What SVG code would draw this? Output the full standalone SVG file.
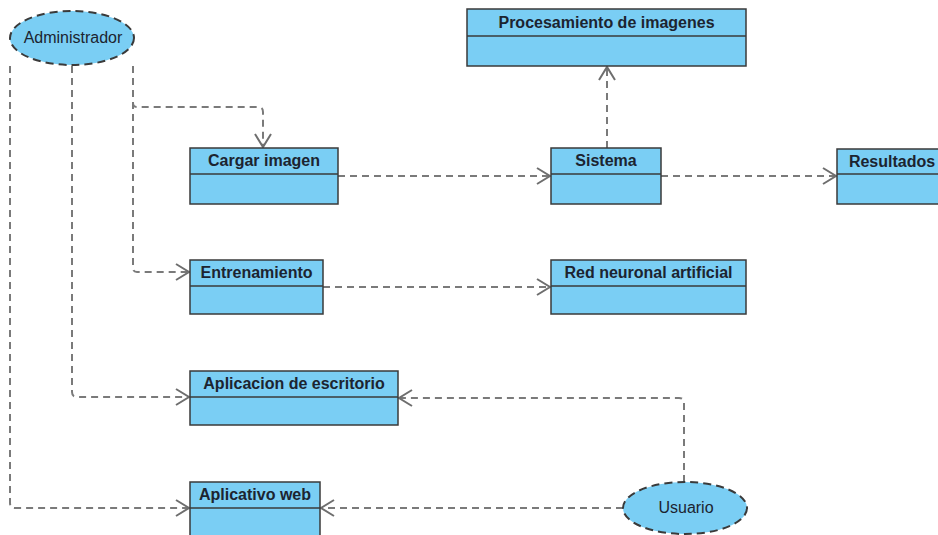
<svg xmlns="http://www.w3.org/2000/svg" width="938" height="535" viewBox="0 0 938 535">
  <style>
    .box { fill: #7acef4; stroke: #3a3a3a; stroke-width: 1.5; }
    .div { stroke: #3a3a3a; stroke-width: 1.5; }
    .actor { fill: #7acef4; stroke: #3a3a3a; stroke-width: 2; stroke-dasharray: 8 5; }
    .title { font-family: "Liberation Sans", Arial, sans-serif; font-weight: bold; font-size: 16px; fill: #1c2430; text-anchor: middle; }
    .aname { font-family: "Liberation Sans", Arial, sans-serif; font-size: 16px; fill: #1c2430; text-anchor: middle; }
    .dep { fill: none; stroke: #7a7a7a; stroke-width: 2; stroke-dasharray: 7 5; marker-end: url(#open); }
  </style>
  <defs>
    <marker id="open" markerUnits="userSpaceOnUse" markerWidth="16" markerHeight="20" refX="14" refY="10" orient="auto">
      <path d="M1,2 L14,10 L1,18" fill="none" stroke="#6e6e6e" stroke-width="2" stroke-dasharray="none"/>
    </marker>
  </defs>

  <rect width="938" height="535" fill="#ffffff"/>

  <!-- dependency connectors -->
  <g id="connectors">
    <path class="dep" d="M133,66 V103 Q133,107 137,107 H258 Q263,107 263,112 V147"/>
    <path class="dep" d="M133,66 V268 Q133,272 137,272 H189"/>
    <path class="dep" d="M72,66 V392 Q72,397 77,397 H189"/>
    <path class="dep" d="M10,66 V503 Q10,508 15,508 H189"/>
    <path class="dep" d="M338,176 H550"/>
    <path class="dep" d="M607,148 V67"/>
    <path class="dep" d="M661,176 H836"/>
    <path class="dep" d="M323,287 H550"/>
    <path class="dep" d="M684,482 V403 Q684,398 679,398 H399"/>
    <path class="dep" d="M623,508 H321"/>
  </g>

  <!-- actors -->
  <g id="administrador">
    <ellipse class="actor" cx="72" cy="38" rx="62" ry="27"/>
    <text class="aname" x="73" y="43">Administrador</text>
  </g>
  <g id="usuario">
    <ellipse class="actor" cx="685" cy="508" rx="62" ry="26"/>
    <text class="aname" x="686" y="513">Usuario</text>
  </g>

  <!-- classes -->
  <g id="procesamiento">
    <rect class="box" x="467" y="9" width="279" height="57"/>
    <line class="div" x1="467" y1="36" x2="746" y2="36"/>
    <text class="title" x="606.5" y="28">Procesamiento de imagenes</text>
  </g>
  <g id="cargar">
    <rect class="box" x="190" y="148" width="148" height="56"/>
    <line class="div" x1="190" y1="174" x2="338" y2="174"/>
    <text class="title" x="264" y="166">Cargar imagen</text>
  </g>
  <g id="sistema">
    <rect class="box" x="551" y="148" width="110" height="56"/>
    <line class="div" x1="551" y1="174" x2="661" y2="174"/>
    <text class="title" x="606" y="166">Sistema</text>
  </g>
  <g id="resultados">
    <rect class="box" x="837" y="149" width="110" height="55"/>
    <line class="div" x1="837" y1="174" x2="947" y2="174"/>
    <text class="title" x="892" y="167">Resultados</text>
  </g>
  <g id="entrenamiento">
    <rect class="box" x="190" y="260" width="133" height="54"/>
    <line class="div" x1="190" y1="286" x2="323" y2="286"/>
    <text class="title" x="256.5" y="278">Entrenamiento</text>
  </g>
  <g id="red-neuronal">
    <rect class="box" x="551" y="260" width="195" height="54"/>
    <line class="div" x1="551" y1="286" x2="746" y2="286"/>
    <text class="title" x="648.5" y="278">Red neuronal artificial</text>
  </g>
  <g id="escritorio">
    <rect class="box" x="190" y="371" width="208" height="54"/>
    <line class="div" x1="190" y1="397" x2="398" y2="397"/>
    <text class="title" x="294" y="389">Aplicacion de escritorio</text>
  </g>
  <g id="web">
    <rect class="box" x="190" y="482" width="130" height="60"/>
    <line class="div" x1="190" y1="508" x2="320" y2="508"/>
    <text class="title" x="255" y="500">Aplicativo web</text>
  </g>
</svg>
